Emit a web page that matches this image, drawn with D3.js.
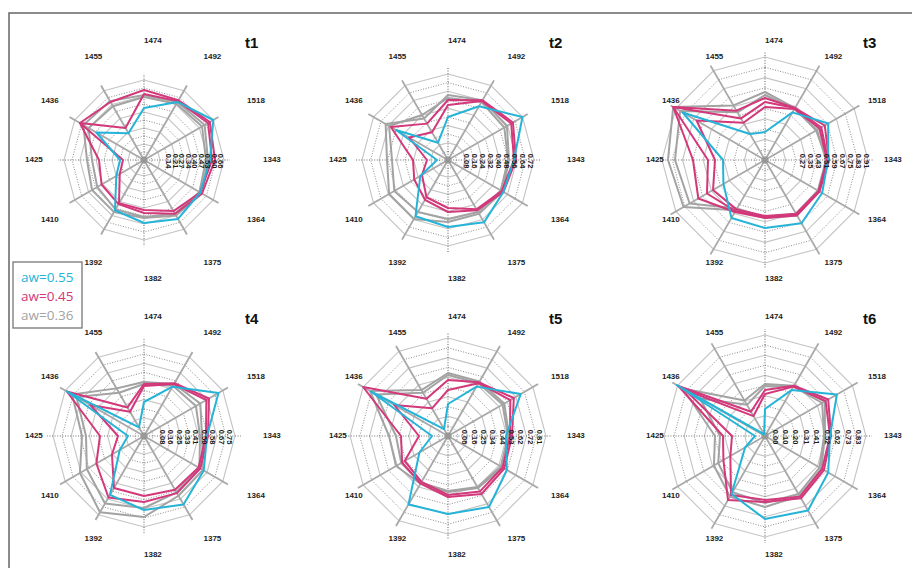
<!DOCTYPE html>
<html><head><meta charset="utf-8">
<script src="https://cdn.jsdelivr.net/npm/d3@7"></script>
<style>body{margin:0;background:#fff}svg{display:block}</style>
</head><body>
<svg id="chart" width="912" height="568"></svg>
<script>
// ---------------- DATA ----------------
const axisLabels = ["1474","1492","1518","1343","1364","1375","1382","1392","1410","1425","1436","1455"];
const panelNames = ["t1","t2","t3","t4","t5","t6"];
const legendLabels = ["aw=0.55","aw=0.45","aw=0.36"];

// value at centre / value at outer ring for each panel
const limitsT1 = [-0.10, 0.70];
const limitsT2 = [-0.10, 0.76];
const limitsT3 = [-0.10, 0.93];
const limitsT4 = [-0.10, 0.81];
const limitsT5 = [-0.10, 0.88];
const limitsT6 = [-0.10, 0.91];

const ticksT1 = ["0.14","0.21","0.27","0.34","0.40","0.47","0.53","0.60","0.66"];
const ticksT2 = ["0.08","0.16","0.24","0.32","0.40","0.48","0.56","0.64","0.72"];
const ticksT3 = ["0.27","0.35","0.43","0.51","0.59","0.67","0.75","0.83","0.91"];
const ticksT4 = ["0.08","0.16","0.25","0.33","0.41","0.50","0.58","0.67","0.75"];
const ticksT5 = ["0.06","0.16","0.25","0.34","0.44","0.53","0.62","0.72","0.81"];
const ticksT6 = ["0.00","0.10","0.20","0.31","0.41","0.52","0.62","0.73","0.83"];

// series (one value per axis, order of axisLabels)
const t1Cyan  = [0.42,0.57,0.70,0.56,0.55,0.58,0.53,0.48,0.22,0.14,0.45,0.21];
const t1PinkA = [0.60,0.59,0.66,0.61,0.57,0.52,0.43,0.41,0.39,0.35,0.64,0.57];
const t1PinkB = [0.56,0.58,0.64,0.58,0.55,0.49,0.40,0.40,0.18,0.11,0.64,0.27];
const t1GrayA = [0.55,0.57,0.60,0.54,0.57,0.54,0.48,0.50,0.50,0.47,0.60,0.58];
const t1GrayB = [0.53,0.55,0.57,0.52,0.54,0.52,0.47,0.47,0.44,0.42,0.54,0.52];

const t2Cyan  = [0.33,0.52,0.76,0.56,0.54,0.62,0.57,0.55,0.22,0.01,0.50,0.10];
const t2PinkA = [0.50,0.59,0.65,0.58,0.54,0.48,0.42,0.36,0.29,0.25,0.56,0.32];
const t2PinkB = [0.45,0.58,0.63,0.56,0.52,0.47,0.38,0.33,0.20,0.11,0.35,0.22];
const t2GrayA = [0.55,0.59,0.58,0.51,0.53,0.52,0.52,0.58,0.58,0.51,0.62,0.38];
const t2GrayB = [0.52,0.57,0.55,0.50,0.51,0.50,0.49,0.50,0.52,0.46,0.58,0.42];

const t3Cyan  = [0.18,0.45,0.63,0.53,0.56,0.63,0.58,0.57,0.38,0.32,0.85,0.20];
const t3PinkA = [0.52,0.50,0.59,0.54,0.53,0.54,0.48,0.50,0.67,0.62,0.96,0.47];
const t3PinkB = [0.48,0.50,0.55,0.53,0.52,0.53,0.47,0.49,0.57,0.47,0.96,0.38];
const t3PinkC = [0.43,0.49,0.53,0.52,0.52,0.52,0.46,0.47,0.50,0.40,0.69,0.33];
const t3GrayA = [0.58,0.50,0.49,0.52,0.52,0.54,0.48,0.48,0.84,0.87,0.96,0.53];
const t3GrayB = [0.55,0.49,0.50,0.51,0.51,0.52,0.47,0.46,0.77,0.80,0.88,0.45];

const t4Cyan  = [0.24,0.47,0.76,0.53,0.59,0.69,0.64,0.58,0.18,0.06,0.79,0.00];
const t4PinkA = [0.42,0.51,0.65,0.54,0.55,0.56,0.56,0.61,0.45,0.34,0.79,0.23];
const t4PinkB = [0.40,0.50,0.62,0.52,0.53,0.52,0.50,0.50,0.27,0.16,0.52,0.18];
const t4GrayA = [0.44,0.50,0.55,0.48,0.58,0.59,0.71,0.78,0.64,0.52,0.73,0.45];
const t4GrayB = [0.42,0.48,0.50,0.46,0.54,0.55,0.62,0.68,0.56,0.48,0.68,0.40];

const t5Cyan  = [0.22,0.47,0.74,0.48,0.58,0.72,0.68,0.69,0.23,0.06,0.79,-0.02];
const t5PinkA = [0.46,0.52,0.66,0.54,0.55,0.57,0.51,0.45,0.43,0.37,0.88,0.33];
const t5PinkB = [0.36,0.51,0.62,0.52,0.53,0.54,0.49,0.43,0.40,0.19,0.52,0.22];
const t5GrayA = [0.53,0.53,0.55,0.51,0.53,0.50,0.46,0.45,0.50,0.49,0.80,0.43];
const t5GrayB = [0.51,0.51,0.53,0.50,0.51,0.49,0.45,0.44,0.44,0.42,0.73,0.40];

const t6Cyan  = [0.17,0.43,0.73,0.55,0.63,0.76,0.73,0.57,0.13,0.00,0.92,-0.08];
const t6PinkA = [0.36,0.48,0.63,0.56,0.58,0.62,0.56,0.64,0.38,0.32,0.90,0.18];
const t6PinkB = [0.32,0.47,0.60,0.55,0.56,0.60,0.54,0.58,0.30,0.23,0.82,0.13];
const t6GrayA = [0.42,0.48,0.59,0.50,0.55,0.59,0.61,0.60,0.49,0.40,0.85,0.31];
const t6GrayB = [0.40,0.47,0.56,0.49,0.53,0.57,0.57,0.55,0.44,0.35,0.65,0.26];

const panelData = [
  {name:"t1", limits:limitsT1, ticks:ticksT1, cyan:[t1Cyan], pink:[t1PinkA,t1PinkB], gray:[t1GrayA,t1GrayB]},
  {name:"t2", limits:limitsT2, ticks:ticksT2, cyan:[t2Cyan], pink:[t2PinkA,t2PinkB], gray:[t2GrayA,t2GrayB]},
  {name:"t3", limits:limitsT3, ticks:ticksT3, cyan:[t3Cyan], pink:[t3PinkA,t3PinkB,t3PinkC], gray:[t3GrayA,t3GrayB]},
  {name:"t4", limits:limitsT4, ticks:ticksT4, cyan:[t4Cyan], pink:[t4PinkA,t4PinkB], gray:[t4GrayA,t4GrayB]},
  {name:"t5", limits:limitsT5, ticks:ticksT5, cyan:[t5Cyan], pink:[t5PinkA,t5PinkB], gray:[t5GrayA,t5GrayB]},
  {name:"t6", limits:limitsT6, ticks:ticksT6, cyan:[t6Cyan], pink:[t6PinkA,t6PinkB], gray:[t6GrayA,t6GrayB]}
];

// ---------------- LAYOUT / STYLE ----------------
const layout = [
  {cx:144, cy:160, R:80},
  {cx:448, cy:160, R:86},
  {cx:765, cy:160, R:103},
  {cx:144, cy:436, R:91},
  {cx:448, cy:436, R:98},
  {cx:765, cy:436, R:101}
];
const COL = {cyan:"#25b4d8", pink:"#d2387a", gray:"#a3a3a3"};
const FONT = "'Liberation Sans', Arial, sans-serif";
const labelR = 119;

const svg = d3.select("#chart");
svg.append("rect").attr("width",912).attr("height",568).attr("fill","#fff");
// frame (right/bottom edges fall outside the picture)
svg.append("rect").attr("x",9).attr("y",13).attr("width",940).attr("height",600)
  .attr("fill","none").attr("stroke","#666").attr("stroke-width",1.5);

const n = axisLabels.length;
const angle = d3.scaleLinear().domain([0,n]).range([0,2*Math.PI]);

panelData.forEach((p,pi)=>{
  const L = layout[pi];
  const g = svg.append("g").attr("transform",`translate(${L.cx},${L.cy})`);
  const r = d3.scaleLinear().domain(p.limits).range([0,L.R]);
  const pt = (i,rad)=>[rad*Math.sin(angle(i)), -rad*Math.cos(angle(i))];

  // rings
  const nRings = 10;
  for(let k=1;k<=nRings;k++){
    const rad = L.R*k/nRings;
    const pts = d3.range(n).map(i=>pt(i,rad));
    const solid = (k%2===0);
    g.append("path").attr("d", d3.line()(pts)+"Z").attr("fill","none")
      .attr("stroke", solid? "#c4c4c4":"#6f6f6f")
      .attr("stroke-width", solid?1.1:0.8)
      .attr("stroke-dasharray", solid?null:"1,1.6");
  }
  // spokes
  d3.range(n).forEach(i=>{
    const card = (i%3===0);
    const e = pt(i, L.R+6);
    g.append("line").attr("x1",0).attr("y1",0).attr("x2",e[0]).attr("y2",e[1])
      .attr("stroke", card? "#6f6f6f":"#a8a8a8")
      .attr("stroke-width", card?1.1:1.8)
      .attr("stroke-dasharray", card?"1,1.6":null);
  });
  g.append("circle").attr("r",3).attr("fill","none").attr("stroke","#888").attr("stroke-width",0.8);
  g.append("circle").attr("r",1.5).attr("fill","none").attr("stroke","#888").attr("stroke-width",0.8);

  // series
  const line = d3.line().x((d,i)=>pt(i,r(d))[0]).y((d,i)=>pt(i,r(d))[1]).curve(d3.curveLinearClosed);
  const draw = (arr,col)=>arr.forEach(s=>g.append("path").attr("d",line(s)).attr("fill","none")
      .attr("stroke",col).attr("stroke-width",2).attr("stroke-linejoin","round"));
  draw(p.gray, COL.gray);
  draw(p.pink, COL.pink);
  draw(p.cyan, COL.cyan);

  // tick labels (rotated, along right spoke)
  p.ticks.forEach(t=>{
    const x = r(+t);
    g.append("text").attr("transform",`translate(${x},1) rotate(90)`)
      .attr("text-anchor","middle").attr("dominant-baseline","middle")
      .attr("font-family",FONT).attr("font-size",7.5).attr("font-weight","bold")
      .attr("fill","#1a1a1a").text(t);
  });

  // axis labels
  axisLabels.forEach((a,i)=>{
    const q = pt(i,labelR);
    g.append("text").attr("x",q[0]).attr("y",q[1]).attr("text-anchor","start")
      .attr("dominant-baseline","middle").attr("font-family",FONT)
      .attr("font-size",8).attr("font-weight","bold").attr("fill","#222").text(a);
  });
  // title
  g.append("text").attr("x", pi%3===2?98:101).attr("y",-112).attr("font-family",FONT)
    .attr("font-size",15).attr("font-weight","bold").attr("fill","#111").text(p.name);
});

// legend
const lg = svg.append("g");
lg.append("rect").attr("x",13).attr("y",262).attr("width",69).attr("height",66)
  .attr("fill","#fff").attr("stroke","#777").attr("stroke-width",1.3);
[COL.cyan,COL.pink,COL.gray].forEach((c,i)=>{
  lg.append("text").attr("x",21).attr("y",282+i*19).attr("font-family","'Open Sans', sans-serif")
    .attr("font-size",13.5).attr("fill",c).text(legendLabels[i]);
});
</script>
</body></html>
